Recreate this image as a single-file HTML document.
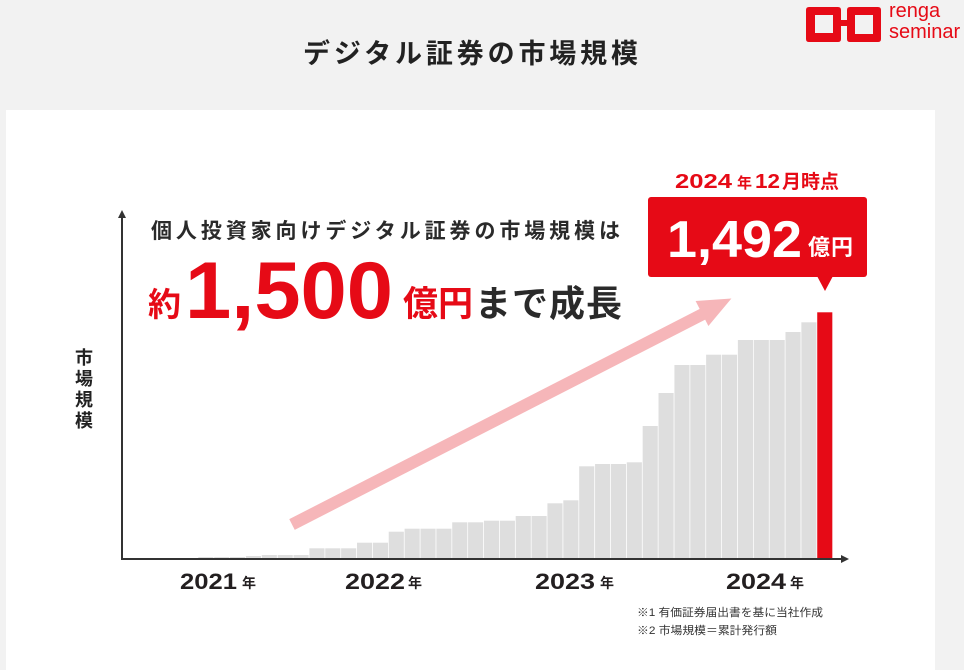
<!DOCTYPE html>
<html>
<head>
<meta charset="utf-8">
<style>
  html,body{margin:0;padding:0;background:#f2f2f2;}
  body{width:964px;height:670px;overflow:hidden;}
  svg{display:block;}
  text{font-family:"Liberation Sans","Noto Sans CJK JP",sans-serif;}
</style>
</head>
<body>
<svg width="964" height="670" viewBox="0 0 964 670" xmlns="http://www.w3.org/2000/svg">
  <rect x="0" y="0" width="964" height="670" fill="#f2f2f2"/>
  <!-- logo -->
  <g fill="#e60a16">
    <path fill-rule="evenodd" d="M809,7 H838 Q841,7 841,10 V20 H847 V10 Q847,7 850,7 H878 Q881,7 881,10 V39 Q881,42 878,42 H850 Q847,42 847,39 V26 H841 V39 Q841,42 838,42 H809 Q806,42 806,39 V10 Q806,7 809,7 Z M815,15 V33 H833 V15 Z M855,15 V34 H873 V15 Z"/>
  </g>
  <text x="889" y="17" font-size="20" fill="#e60a16">renga</text>
  <text x="889" y="38" font-size="20" fill="#e60a16">seminar</text>

  <!-- title -->
  <text x="303" y="63" font-size="27" font-weight="bold" fill="#222" textLength="335" lengthAdjust="spacing">デジタル証券の市場規模</text>

  <!-- white panel -->
  <rect x="6" y="110" width="929" height="560" fill="#ffffff"/>

  <!-- bars -->
  <g fill="#dedede">
    <rect x="198.3" y="557" width="15.1" height="1"/>
    <rect x="214.17" y="557" width="15.1" height="1"/>
    <rect x="230.04" y="557" width="15.1" height="1"/>
    <rect x="245.91" y="556" width="15.1" height="2"/>
    <rect x="261.78" y="555" width="15.1" height="3"/>
    <rect x="277.65" y="555" width="15.1" height="3"/>
    <rect x="293.52" y="555" width="15.1" height="3"/>
    <rect x="309.39" y="548.3" width="15.1" height="9.7"/>
    <rect x="325.26" y="548.3" width="15.1" height="9.7"/>
    <rect x="341.13" y="548.3" width="15.1" height="9.7"/>
    <rect x="357.0" y="542.7" width="15.1" height="15.3"/>
    <rect x="372.87" y="542.7" width="15.1" height="15.3"/>
    <rect x="388.74" y="531.7" width="15.1" height="26.3"/>
    <rect x="404.61" y="528.7" width="15.1" height="29.3"/>
    <rect x="420.48" y="528.7" width="15.1" height="29.3"/>
    <rect x="436.35" y="528.7" width="15.1" height="29.3"/>
    <rect x="452.22" y="522.3" width="15.1" height="35.7"/>
    <rect x="468.09" y="522.3" width="15.1" height="35.7"/>
    <rect x="483.96" y="520.7" width="15.1" height="37.3"/>
    <rect x="499.83" y="520.7" width="15.1" height="37.3"/>
    <rect x="515.7" y="516" width="15.1" height="42"/>
    <rect x="531.57" y="516" width="15.1" height="42"/>
    <rect x="547.44" y="503.3" width="15.1" height="54.7"/>
    <rect x="563.31" y="500.3" width="15.1" height="57.7"/>
    <rect x="579.18" y="466.3" width="15.1" height="91.7"/>
    <rect x="595.05" y="464" width="15.1" height="94"/>
    <rect x="610.92" y="464" width="15.1" height="94"/>
    <rect x="626.79" y="462.3" width="15.1" height="95.7"/>
    <rect x="642.66" y="426" width="15.1" height="132"/>
    <rect x="658.53" y="393" width="15.1" height="165"/>
    <rect x="674.4" y="365" width="15.1" height="193"/>
    <rect x="690.27" y="365" width="15.1" height="193"/>
    <rect x="706.14" y="354.7" width="15.1" height="203.3"/>
    <rect x="722.01" y="354.7" width="15.1" height="203.3"/>
    <rect x="737.88" y="340" width="15.1" height="218"/>
    <rect x="753.75" y="340" width="15.1" height="218"/>
    <rect x="769.62" y="340" width="15.1" height="218"/>
    <rect x="785.49" y="332" width="15.1" height="226"/>
    <rect x="801.36" y="322.3" width="15.1" height="235.7"/>
  </g>
  <rect x="817.23" y="312.3" width="15.1" height="245.7" fill="#e60a16"/>

  <!-- pink arrow -->
  <line x1="292" y1="524.5" x2="703" y2="314" stroke="#f6b6b9" stroke-width="12"/>
  <polygon points="695.6,301 708.4,326 731.4,298.5" fill="#f6b6b9"/>

  <!-- axes -->
  <line x1="122" y1="559" x2="122" y2="215" stroke="#333" stroke-width="2"/>
  <polygon points="122,210 118,218 126,218" fill="#333"/>
  <line x1="121" y1="559" x2="843" y2="559" stroke="#333" stroke-width="2"/>
  <polygon points="849,559 841,555 841,563" fill="#333"/>

  <!-- y axis label -->
  <g font-size="18" font-weight="bold" fill="#222" text-anchor="middle">
    <text x="84" y="364">市</text>
    <text x="84" y="385">場</text>
    <text x="84" y="406">規</text>
    <text x="84" y="427">模</text>
  </g>

  <!-- headline -->
  <text x="151" y="238" font-size="21" font-weight="bold" fill="#2a2a2a" textLength="469" lengthAdjust="spacing">個人投資家向けデジタル証券の市場規模は</text>
  <text x="148" y="316" font-size="33" font-weight="bold" fill="#e60a16">約</text>
  <text x="185" y="318" font-size="81" font-weight="bold" fill="#e60a16" textLength="208" lengthAdjust="spacingAndGlyphs">1,500</text>
  <text x="403" y="316" font-size="35" font-weight="bold" fill="#e60a16" textLength="70" lengthAdjust="spacingAndGlyphs">億円</text>
  <text x="475" y="316" font-size="36" font-weight="bold" fill="#2a2a2a" textLength="147" lengthAdjust="spacing">まで成長</text>

  <!-- callout -->
  <text y="188" font-weight="bold" fill="#e60a16">
    <tspan x="675" font-size="20" textLength="57" lengthAdjust="spacingAndGlyphs">2024</tspan>
    <tspan x="737" font-size="15">年</tspan>
    <tspan x="755" font-size="20" textLength="25" lengthAdjust="spacingAndGlyphs">12</tspan>
    <tspan x="782" font-size="19">月時点</tspan>
  </text>
  <rect x="648" y="197" width="219" height="80" rx="3" ry="3" fill="#e60a16"/>
  <polygon points="817,276 833,276 825,291" fill="#e60a16"/>
  <text x="667" y="257" font-size="52" font-weight="bold" fill="#ffffff" textLength="135" lengthAdjust="spacingAndGlyphs">1,492</text>
  <text x="808" y="255" font-size="22" font-weight="bold" fill="#ffffff" textLength="45" lengthAdjust="spacing">億円</text>

  <!-- year labels -->
  <g font-weight="bold" fill="#231f20">
    <text x="180" y="589" font-size="22" textLength="57" lengthAdjust="spacingAndGlyphs">2021</text>
    <text x="242" y="588" font-size="14">年</text>
    <text x="345" y="589" font-size="22" textLength="60" lengthAdjust="spacingAndGlyphs">2022</text>
    <text x="408" y="588" font-size="14">年</text>
    <text x="535" y="589" font-size="22" textLength="60" lengthAdjust="spacingAndGlyphs">2023</text>
    <text x="600" y="588" font-size="14">年</text>
    <text x="726" y="589" font-size="22" textLength="60" lengthAdjust="spacingAndGlyphs">2024</text>
    <text x="790" y="588" font-size="14">年</text>
  </g>

  <!-- footnotes -->
  <text x="637" y="616" font-size="11" fill="#333" textLength="186" lengthAdjust="spacingAndGlyphs">※1 有価証券届出書を基に当社作成</text>
  <text x="637" y="634" font-size="11" fill="#333" textLength="140" lengthAdjust="spacingAndGlyphs">※2 市場規模＝累計発行額</text>
</svg>
</body>
</html>
